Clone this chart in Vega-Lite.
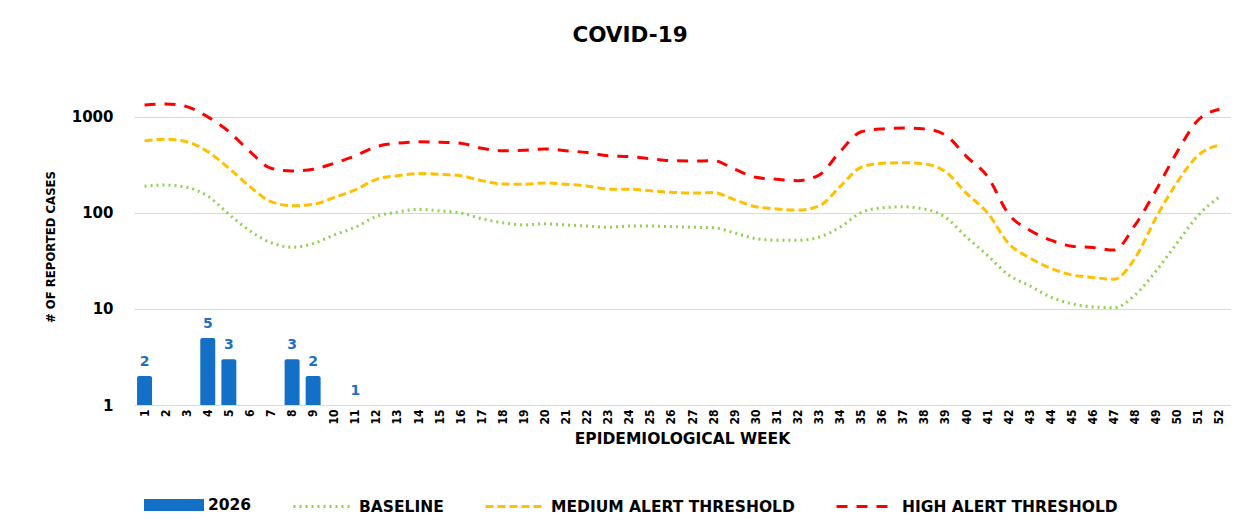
{
  "$schema": "https://vega.github.io/schema/vega-lite/v6.json",
  "autosize": {"type": "none"},
  "width": 1096,
  "height": 317,
  "padding": {"left": 134, "top": 88, "right": 19, "bottom": 115},
  "background": "white",
  "title": {"text": "COVID-19", "font": "DejaVu Sans", "fontSize": 21.5, "fontWeight": "bold", "color": "#000000", "anchor": "middle", "dx": -52, "offset": 42},
  "config": {"view": {"stroke": null}},
  "data": {"values": [
    {"week": 1, "cases": 2, "BASELINE": 190, "MEDIUM ALERT THRESHOLD": 566, "HIGH ALERT THRESHOLD": 1334},
    {"week": 2, "BASELINE": 195, "MEDIUM ALERT THRESHOLD": 585, "HIGH ALERT THRESHOLD": 1366},
    {"week": 3, "BASELINE": 185, "MEDIUM ALERT THRESHOLD": 552, "HIGH ALERT THRESHOLD": 1280},
    {"week": 4, "cases": 5, "BASELINE": 150, "MEDIUM ALERT THRESHOLD": 435, "HIGH ALERT THRESHOLD": 1000},
    {"week": 5, "cases": 3, "BASELINE": 97, "MEDIUM ALERT THRESHOLD": 292, "HIGH ALERT THRESHOLD": 704},
    {"week": 6, "BASELINE": 65, "MEDIUM ALERT THRESHOLD": 188, "HIGH ALERT THRESHOLD": 435},
    {"week": 7, "BASELINE": 49, "MEDIUM ALERT THRESHOLD": 131, "HIGH ALERT THRESHOLD": 292},
    {"week": 8, "cases": 3, "BASELINE": 44, "MEDIUM ALERT THRESHOLD": 119, "HIGH ALERT THRESHOLD": 274},
    {"week": 9, "cases": 2, "BASELINE": 48, "MEDIUM ALERT THRESHOLD": 123, "HIGH ALERT THRESHOLD": 285},
    {"week": 10, "BASELINE": 59, "MEDIUM ALERT THRESHOLD": 145, "HIGH ALERT THRESHOLD": 329},
    {"week": 11, "cases": 1, "BASELINE": 71, "MEDIUM ALERT THRESHOLD": 174, "HIGH ALERT THRESHOLD": 393},
    {"week": 12, "BASELINE": 92, "MEDIUM ALERT THRESHOLD": 224, "HIGH ALERT THRESHOLD": 490},
    {"week": 13, "BASELINE": 102, "MEDIUM ALERT THRESHOLD": 244, "HIGH ALERT THRESHOLD": 532},
    {"week": 14, "BASELINE": 109, "MEDIUM ALERT THRESHOLD": 257, "HIGH ALERT THRESHOLD": 550},
    {"week": 15, "BASELINE": 105, "MEDIUM ALERT THRESHOLD": 253, "HIGH ALERT THRESHOLD": 546},
    {"week": 16, "BASELINE": 100, "MEDIUM ALERT THRESHOLD": 244, "HIGH ALERT THRESHOLD": 532},
    {"week": 17, "BASELINE": 87, "MEDIUM ALERT THRESHOLD": 217, "HIGH ALERT THRESHOLD": 472},
    {"week": 18, "BASELINE": 79, "MEDIUM ALERT THRESHOLD": 200, "HIGH ALERT THRESHOLD": 445},
    {"week": 19, "BASELINE": 75, "MEDIUM ALERT THRESHOLD": 199, "HIGH ALERT THRESHOLD": 450},
    {"week": 20, "BASELINE": 77, "MEDIUM ALERT THRESHOLD": 205, "HIGH ALERT THRESHOLD": 464},
    {"week": 21, "BASELINE": 75, "MEDIUM ALERT THRESHOLD": 199, "HIGH ALERT THRESHOLD": 445},
    {"week": 22, "BASELINE": 73, "MEDIUM ALERT THRESHOLD": 191, "HIGH ALERT THRESHOLD": 425},
    {"week": 23, "BASELINE": 71, "MEDIUM ALERT THRESHOLD": 177, "HIGH ALERT THRESHOLD": 393},
    {"week": 24, "BASELINE": 73, "MEDIUM ALERT THRESHOLD": 177, "HIGH ALERT THRESHOLD": 386},
    {"week": 25, "BASELINE": 73, "MEDIUM ALERT THRESHOLD": 170, "HIGH ALERT THRESHOLD": 368},
    {"week": 26, "BASELINE": 72, "MEDIUM ALERT THRESHOLD": 164, "HIGH ALERT THRESHOLD": 350},
    {"week": 27, "BASELINE": 71, "MEDIUM ALERT THRESHOLD": 161, "HIGH ALERT THRESHOLD": 347},
    {"week": 28, "BASELINE": 70, "MEDIUM ALERT THRESHOLD": 163, "HIGH ALERT THRESHOLD": 350},
    {"week": 29, "BASELINE": 62, "MEDIUM ALERT THRESHOLD": 137, "HIGH ALERT THRESHOLD": 285},
    {"week": 30, "BASELINE": 54, "MEDIUM ALERT THRESHOLD": 116, "HIGH ALERT THRESHOLD": 235},
    {"week": 31, "BASELINE": 52, "MEDIUM ALERT THRESHOLD": 110, "HIGH ALERT THRESHOLD": 224},
    {"week": 32, "BASELINE": 52, "MEDIUM ALERT THRESHOLD": 107, "HIGH ALERT THRESHOLD": 217},
    {"week": 33, "BASELINE": 56, "MEDIUM ALERT THRESHOLD": 118, "HIGH ALERT THRESHOLD": 248},
    {"week": 34, "BASELINE": 71, "MEDIUM ALERT THRESHOLD": 188, "HIGH ALERT THRESHOLD": 435},
    {"week": 35, "BASELINE": 101, "MEDIUM ALERT THRESHOLD": 299, "HIGH ALERT THRESHOLD": 700},
    {"week": 36, "BASELINE": 113, "MEDIUM ALERT THRESHOLD": 329, "HIGH ALERT THRESHOLD": 750},
    {"week": 37, "BASELINE": 116, "MEDIUM ALERT THRESHOLD": 334, "HIGH ALERT THRESHOLD": 765},
    {"week": 38, "BASELINE": 110, "MEDIUM ALERT THRESHOLD": 324, "HIGH ALERT THRESHOLD": 750},
    {"week": 39, "BASELINE": 90, "MEDIUM ALERT THRESHOLD": 269, "HIGH ALERT THRESHOLD": 647},
    {"week": 40, "BASELINE": 56, "MEDIUM ALERT THRESHOLD": 160, "HIGH ALERT THRESHOLD": 386},
    {"week": 41, "BASELINE": 36, "MEDIUM ALERT THRESHOLD": 100, "HIGH ALERT THRESHOLD": 239},
    {"week": 42, "BASELINE": 22.6, "MEDIUM ALERT THRESHOLD": 48, "HIGH ALERT THRESHOLD": 97},
    {"week": 43, "BASELINE": 17.4, "MEDIUM ALERT THRESHOLD": 34, "HIGH ALERT THRESHOLD": 66},
    {"week": 44, "BASELINE": 13.3, "MEDIUM ALERT THRESHOLD": 26.5, "HIGH ALERT THRESHOLD": 52},
    {"week": 45, "BASELINE": 11.3, "MEDIUM ALERT THRESHOLD": 22.6, "HIGH ALERT THRESHOLD": 45},
    {"week": 46, "BASELINE": 10.5, "MEDIUM ALERT THRESHOLD": 21.3, "HIGH ALERT THRESHOLD": 43.6},
    {"week": 47, "BASELINE": 10.3, "MEDIUM ALERT THRESHOLD": 20.4, "HIGH ALERT THRESHOLD": 41},
    {"week": 48, "BASELINE": 14, "MEDIUM ALERT THRESHOLD": 34, "HIGH ALERT THRESHOLD": 75},
    {"week": 49, "BASELINE": 25, "MEDIUM ALERT THRESHOLD": 90, "HIGH ALERT THRESHOLD": 174},
    {"week": 50, "BASELINE": 49, "MEDIUM ALERT THRESHOLD": 210, "HIGH ALERT THRESHOLD": 435},
    {"week": 51, "BASELINE": 95, "MEDIUM ALERT THRESHOLD": 400, "HIGH ALERT THRESHOLD": 933},
    {"week": 52, "BASELINE": 147, "MEDIUM ALERT THRESHOLD": 510, "HIGH ALERT THRESHOLD": 1200}
  ]},
  "encoding": {
    "x": {
      "field": "week", "type": "ordinal",
      "scale": {"paddingInner": 0.29, "paddingOuter": 0.145},
      "axis": {
        "title": "EPIDEMIOLOGICAL WEEK", "titleFont": "DejaVu Sans", "titleFontSize": 15.5, "titleFontWeight": "bold", "titleColor": "#000000", "titlePadding": 7,
        "labelAngle": -90, "labelFont": "DejaVu Sans Condensed", "labelFontSize": 12, "labelFontWeight": "bold", "labelColor": "#000000", "labelPadding": 4,
        "ticks": false, "domain": false, "grid": false
      }
    }
  },
  "layer": [
    {
      "mark": {"type": "bar", "cornerRadiusTopLeft": 2, "cornerRadiusTopRight": 2},
      "encoding": {
        "y": {
          "field": "cases", "type": "quantitative",
          "scale": {"type": "log", "domain": [1, 2000], "nice": false},
          "axis": {
            "values": [1, 10, 100, 1000], "format": "d",
            "title": "# OF REPORTED CASES", "titleFont": "DejaVu Sans Condensed", "titleFontSize": 13, "titleFontWeight": "bold", "titleColor": "#000000", "titlePadding": 14,
            "labelFont": "DejaVu Sans", "labelFontSize": 15, "labelFontWeight": "bold", "labelColor": "#000000", "labelPadding": 21,
            "ticks": false, "domain": false, "grid": true, "gridColor": "#d9d9d9", "gridWidth": 1
          }
        },
        "y2": {"datum": 1},
        "fill": {
          "datum": "2026", "type": "nominal",
          "scale": {"domain": ["2026"], "range": ["#1470C6"]},
          "legend": {
            "orient": "none", "legendX": 10, "legendY": 387, "direction": "horizontal", "title": null,
            "symbolType": "M-1,-0.2H1V0.2H-1Z", "symbolSize": 3600, "symbolStrokeWidth": 0,
            "labelFont": "DejaVu Sans", "labelFontSize": 15.5, "labelFontWeight": "bold", "labelColor": "#000000",
            "labelOffset": 4
          }
        }
      }
    },
    {
      "mark": {"type": "text", "font": "DejaVu Sans", "fontWeight": "bold", "fontSize": 14, "color": "#1F6FC5", "baseline": "bottom", "dy": -7},
      "encoding": {
        "y": {"field": "cases", "type": "quantitative"},
        "text": {"field": "cases", "type": "quantitative"}
      }
    },
    {
      "transform": [{"fold": ["BASELINE", "MEDIUM ALERT THRESHOLD", "HIGH ALERT THRESHOLD"], "as": ["series", "value"]}],
      "mark": {"type": "line", "interpolate": "monotone", "strokeWidth": 3},
      "encoding": {
        "y": {"field": "value", "type": "quantitative"},
        "stroke": {
          "field": "series", "type": "nominal",
          "scale": {"domain": ["BASELINE", "MEDIUM ALERT THRESHOLD", "HIGH ALERT THRESHOLD"], "range": ["#92D050", "#FFC000", "#FF0000"]},
          "legend": {
            "orient": "none", "legendX": 158, "legendY": 387, "direction": "horizontal", "title": null,
            "symbolType": "stroke", "symbolSize": 3600, "symbolStrokeWidth": 3,
            "labelFont": "DejaVu Sans", "labelFontSize": 15.5, "labelFontWeight": "bold", "labelColor": "#000000", "labelLimit": 400,
            "columnPadding": 35, "labelOffset": 4, "gridAlign": "each",
            "encode": {
              "symbols": {
                "update": {
                  "strokeDash": {"signal": "datum.value === 'BASELINE' ? [2, 3] : (datum.value === 'MEDIUM ALERT THRESHOLD' ? [8, 4] : [11, 9])"}
                }
              }
            }
          }
        },
        "strokeDash": {
          "field": "series", "type": "nominal",
          "scale": {"domain": ["BASELINE", "MEDIUM ALERT THRESHOLD", "HIGH ALERT THRESHOLD"], "range": [[2, 4], [8, 4], [11, 9]]},
          "legend": null
        }
      }
    }
  ]
}
